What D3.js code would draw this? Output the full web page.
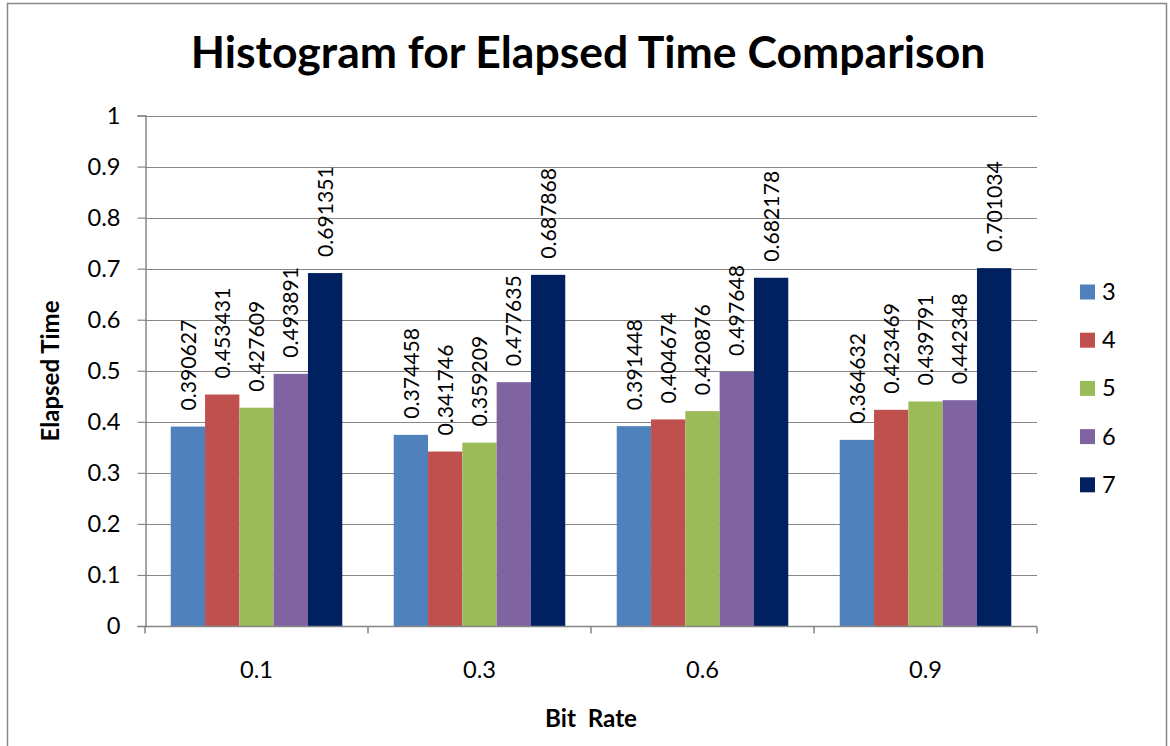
<!DOCTYPE html>
<html>
<head>
<meta charset="utf-8">
<script src="https://cdn.jsdelivr.net/npm/d3@7"></script>
<style>
  html, body { margin: 0; padding: 0; background: #fff; }
  svg { display: block; }
  text { font-family: Lato, "Open Sans", sans-serif; fill: #000; }
</style>
</head>
<body>
<svg id="chart" width="1170" height="746"></svg>
<script>
const categories = ["0.1", "0.3", "0.6", "0.9"];
const seriesNames = ["3", "4", "5", "6", "7"];
const s3 = [0.390627, 0.374458, 0.391448, 0.364632];
const s4 = [0.453431, 0.341746, 0.404674, 0.423469];
const s5 = [0.427609, 0.359209, 0.420876, 0.439791];
const s6 = [0.493891, 0.477635, 0.497648, 0.442348];
const s7 = [0.691351, 0.687868, 0.682178, 0.701034];
const yTicks = [0, 0.1, 0.2, 0.3, 0.4, 0.5, 0.6, 0.7, 0.8, 0.9, 1];
const colors = ["#4F81BD", "#C0504D", "#9BBB59", "#8064A2", "#002060"];
const seriesValues = [s3, s4, s5, s6, s7];

const svg = d3.select("#chart");

// helper: font size so that sample text has target width
function fitSize(sample, target, weight) {
  const t = svg.append("text").attr("font-size", 100).attr("font-weight", weight || "normal")
    .style("white-space", "pre").text(sample);
  const w = t.node().getComputedTextLength();
  t.remove();
  return 100 * target / w;
}
const labelFS = fitSize("0.691351", 91);
const tickFS = fitSize("0.9", 33);
const titleFS = fitSize("Histogram for Elapsed Time Comparison", 795, "bold");
const yTitleFS = fitSize("Elapsed Time", 141, "bold");
const xTitleFS = fitSize("Bit  Rate", 92, "bold");

// border
svg.append("rect").attr("x", 7.5).attr("y", 3.5).attr("width", 1159).attr("height", 760)
  .attr("fill", "none").attr("stroke", "#868686").attr("stroke-width", 1.5);

const pLeft = 145, pRight = 1037, pTop = 115.5, pBottom = 626;
const x0 = d3.scaleBand().domain(categories).range([pLeft, pRight]).paddingInner(0).paddingOuter(0);
const x1 = d3.scaleBand().domain(seriesNames).range([0, x0.bandwidth()]).paddingInner(0).paddingOuter(0.75);
const y = d3.scaleLinear().domain([0, 1]).range([pBottom, pTop]);

// gridlines
svg.append("g").selectAll("line").data(yTicks.slice(1)).join("line")
  .attr("x1", pLeft).attr("x2", pRight)
  .attr("y1", d => Math.round(y(d)) + 0.5).attr("y2", d => Math.round(y(d)) + 0.5)
  .attr("stroke", "#868686").attr("stroke-width", 1.2);

// bars
const groups = svg.append("g").selectAll("g").data(categories).join("g")
  .attr("transform", d => `translate(${x0(d)},0)`);
groups.each(function(cat, ci) {
  const g = d3.select(this);
  seriesNames.forEach((s, si) => {
    const v = seriesValues[si][ci];
    g.append("rect")
      .attr("x", x1(s)).attr("width", x1.bandwidth())
      .attr("y", y(v)).attr("height", y(0) - y(v))
      .attr("fill", colors[si]);
    const cx = x1(s) + x1.bandwidth() / 2;
    const ty = y(v) - 16;
    g.append("text")
      .attr("transform", `translate(${cx + labelFS * 0.36},${ty}) rotate(-90)`)
      .attr("text-anchor", "start")
      .attr("font-size", labelFS)
      .text(String(v));
  });
});

// y axis
const yAxis = d3.axisLeft(y).tickValues(yTicks).tickSize(8).tickPadding(17)
  .tickFormat(d => d3.format("")(+d.toFixed(1)));
const yg = svg.append("g").attr("transform", `translate(${pLeft + 0.5},0)`).call(yAxis);
yg.select(".domain").attr("stroke", "#868686").attr("stroke-width", 1.5);
yg.selectAll(".tick line").attr("stroke", "#868686").attr("stroke-width", 1.2);
yg.selectAll(".tick text").attr("font-size", tickFS).attr("font-family", "Lato, sans-serif").attr("fill", "#000");

// x axis
const xg = svg.append("g").attr("transform", `translate(0,${pBottom + 0.5})`);
xg.append("line").attr("x1", pLeft).attr("x2", pRight).attr("y1", 0).attr("y2", 0)
  .attr("stroke", "#868686").attr("stroke-width", 1.5);
const bounds = categories.map(c => x0(c)).concat([pRight]);
xg.selectAll("line.tk").data(bounds).join("line").attr("class", "tk")
  .attr("x1", d => d).attr("x2", d => d).attr("y1", 0).attr("y2", 7)
  .attr("stroke", "#868686").attr("stroke-width", 1.5);
xg.selectAll("text").data(categories).join("text")
  .attr("x", d => x0(d) + x0.bandwidth() / 2).attr("y", 51)
  .attr("text-anchor", "middle").attr("font-size", tickFS).text(d => d);

// title
svg.append("text").attr("x", 588).attr("y", 68).attr("text-anchor", "middle")
  .attr("font-size", titleFS).attr("font-weight", "bold").text("Histogram for Elapsed Time Comparison");

// axis titles
svg.append("text").attr("transform", "translate(59,371) rotate(-90)").attr("text-anchor", "middle")
  .attr("font-size", yTitleFS).attr("font-weight", "bold").text("Elapsed Time");
svg.append("text").attr("x", 591).attr("y", 727).attr("text-anchor", "middle")
  .attr("font-size", xTitleFS).attr("font-weight", "bold")
  .style("white-space", "pre").text("Bit  Rate");

// legend
const lg = svg.append("g").selectAll("g").data(seriesNames).join("g")
  .attr("transform", (d, i) => `translate(1080,${292 + i * 48.2})`);
lg.append("rect").attr("x", 0).attr("y", -7.5).attr("width", 15).attr("height", 15)
  .attr("fill", (d, i) => colors[i]);
lg.append("text").attr("x", 22).attr("y", 8).attr("font-size", tickFS).text(d => d);
</script>
</body>
</html>
